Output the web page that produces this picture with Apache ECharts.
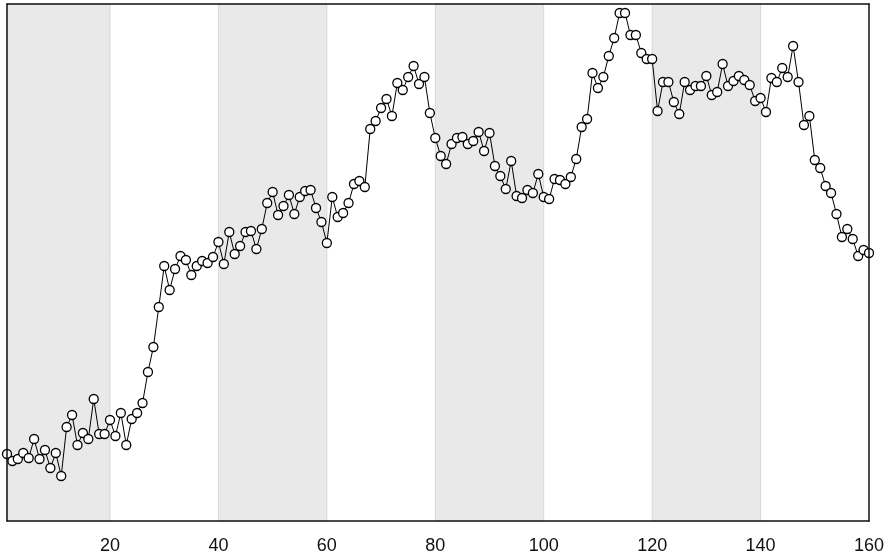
<!DOCTYPE html>
<html>
<head>
<meta charset="utf-8">
<script src="https://cdn.jsdelivr.net/npm/echarts@6/dist/echarts.min.js"></script>
<style>
  html, body { margin: 0; padding: 0; background: #fff; }
  #chart { width: 889px; height: 560px; }
</style>
</head>
<body>
<div id="chart"></div>
<script>
// x runs 1..160, one value per step
const xMin = 1
const xMax = 160
const values = [
  67, 60, 62, 68, 63, 82, 62, 71, 53, 68,
  45, 94, 106, 76, 88, 82, 122, 87, 87, 101,
  85, 108, 76, 102, 108, 118, 149, 174, 214, 255,
  231, 252, 265, 261, 246, 255, 260, 258, 264, 279,
  257, 289, 267, 275, 289, 290, 272, 292, 318, 329,
  306, 315, 326, 307, 324, 330, 331, 313, 299, 278,
  324, 304, 308, 318, 337, 340, 334, 392, 400, 413,
  422, 405, 438, 431, 444, 455, 437, 444, 408, 383,
  365, 357, 377, 383, 384, 377, 380, 389, 370, 388,
  355, 345, 332, 360, 325, 323, 331, 328, 347, 324,
  322, 342, 341, 337, 344, 362, 394, 402, 448, 433,
  444, 465, 483, 508, 508, 486, 486, 468, 462, 462,
  410, 439, 439, 419, 407, 439, 431, 435, 435, 445,
  426, 429, 457, 435, 440, 445, 441, 436, 420, 423,
  409, 443, 439, 453, 444, 475, 439, 396, 405, 361,
  353, 335, 328, 307, 284, 292, 282, 265, 271, 268
]
const tickLabels = [20, 40, 60, 80, 100, 120, 140, 160]
// shaded ranges along x
const bands = [[0, 20], [40, 60], [80, 100], [120, 140]]

const chart = echarts.init(document.getElementById('chart'))

const points = values.map((v, i) => [xMin + i, v])

chart.setOption({
  animation: false,
  grid: { left: 7, right: 20, top: 4, bottom: 39 },
  xAxis: [
    {
      type: 'value',
      min: xMin,
      max: xMax,
      z: 10,
      axisLine: { show: true, onZero: false, lineStyle: { color: '#111', width: 1.5 } },
      axisTick: { show: false },
      splitLine: { show: false },
      axisLabel: {
        customValues: tickLabels,
        color: '#111',
        fontSize: 18,
        fontFamily: 'Liberation Sans, Arial, sans-serif',
        margin: 16
      }
    },
    {
      type: 'value',
      position: 'top',
      min: xMin,
      max: xMax,
      z: 10,
      axisLine: { show: true, onZero: false, lineStyle: { color: '#111', width: 1.5 } },
      axisTick: { show: false },
      splitLine: { show: false },
      axisLabel: { show: false }
    }
  ],
  yAxis: [
    {
      type: 'value',
      min: 0,
      max: 517,
      z: 10,
      axisLine: { show: true, onZero: false, lineStyle: { color: '#111', width: 1.5 } },
      axisTick: { show: false },
      splitLine: { show: false },
      axisLabel: { show: false }
    },
    {
      type: 'value',
      position: 'right',
      min: 0,
      max: 517,
      z: 10,
      axisLine: { show: true, onZero: false, lineStyle: { color: '#111', width: 1.5 } },
      axisTick: { show: false },
      splitLine: { show: false },
      axisLabel: { show: false }
    }
  ],
  series: [
    {
      type: 'line',
      data: points,
      symbol: 'circle',
      symbolSize: 9,
      showAllSymbol: true,
      lineStyle: { color: '#000', width: 1 },
      itemStyle: { color: '#fff', borderColor: '#000', borderWidth: 1.3 },
      markArea: {
        silent: true,
        itemStyle: { color: '#e9e9e9', borderColor: '#c8c8c8', borderWidth: 0.6 },
        data: bands.map(b => [{ xAxis: Math.max(b[0], xMin) }, { xAxis: b[1] }])
      }
    }
  ]
})
</script>
</body>
</html>
